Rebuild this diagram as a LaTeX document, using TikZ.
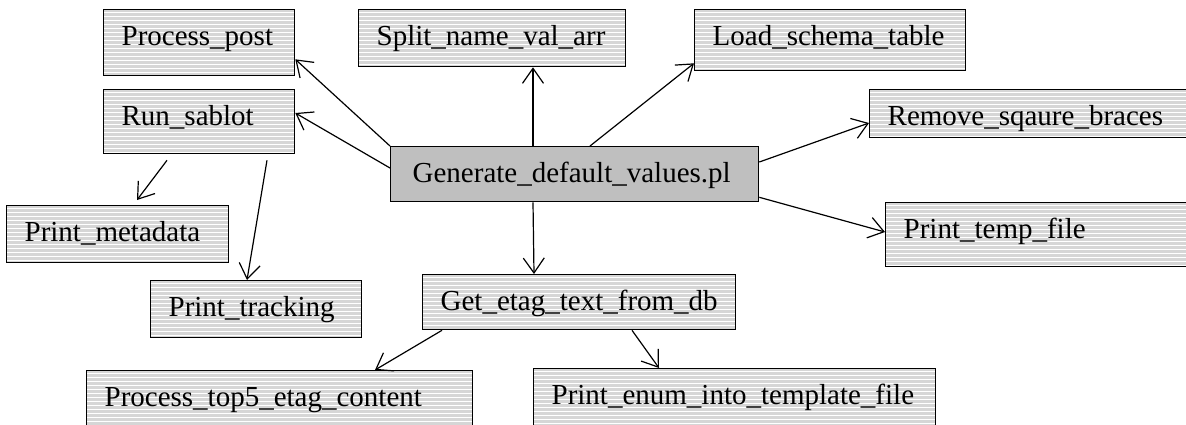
\documentclass[tikz,border=0pt]{standalone}
\usepackage{fontspec}
\setmainfont{Liberation Serif}
\usetikzlibrary{arrows.meta}
\tikzset{
  box/.style={draw=black, line width=1.3pt, fill=gray!32,
    path picture={\foreach \i in {1,...,18}{
      \draw[white, line width=1.3pt]
        ([yshift=-\i*4pt+1pt]path picture bounding box.north west) --
        ([yshift=-\i*4pt+1pt]path picture bounding box.north east);}},
    anchor=north west, inner xsep=18pt, inner ysep=0pt, text height=36pt,
    align=left, font=\fontsize{29}{30}\selectfont},
  mainbox/.style={draw=black, line width=1.3pt, fill=gray!50,
    anchor=north west, inner xsep=22pt, inner ysep=0pt, text height=36pt,
    align=left, font=\fontsize{29}{30}\selectfont},
  arr/.style={line width=1.2pt, -{Straight Barb[length=15pt,width=21pt,line width=1.2pt]}}
}
\begin{document}
\begin{tikzpicture}[x=1pt,y=-1pt]
\path[use as bounding box] (0,0) rectangle (1186,424);
\clip (0,0) rectangle (1186,424);
\node[box, text width=155pt, text depth=30pt] (pp) at (103,9) {Process\_post};
\node[box, text width=231pt, text depth=21pt] (split) at (358,9) {Split\_name\_val\_arr};
\node[box, text width=235pt, text depth=25pt] (load) at (694,9) {Load\_schema\_table};
\node[box, text width=155pt, text depth=28pt] (run) at (103,89) {Run\_sablot};
\node[box, text width=282pt, text depth=12pt] (remove) at (869,89) {Remove\_sqaure\_braces};
\node[mainbox, text width=324pt, text depth=19pt] (gen) at (390,146) {Generate\_default\_values.pl};
\node[box, text width=186pt, text depth=21pt] (meta) at (6,205) {Print\_metadata};
\node[box, text width=266pt, text depth=28pt] (temp) at (885,202) {Print\_temp\_file};
\node[box, text width=277pt, text depth=19pt] (getetag) at (422,274) {Get\_etag\_text\_from\_db};
\node[box, text width=175pt, text depth=21pt] (tracking) at (150,280) {Print\_tracking};
\node[box, text width=350pt, text depth=29pt] (top5) at (86,370) {Process\_top5\_etag\_content};
\node[box, text width=366pt, text depth=29pt] (enum) at (533,368) {Print\_enum\_into\_template\_file};

\draw[arr] (gen.north west) -- ([yshift=17pt]pp.south east);
\draw[arr] ([yshift=-22pt]gen.north west) -- ([yshift=-24pt]run.north east);
\draw[arr] ([xshift=143pt]gen.north west) -- ([xshift=175pt]split.south west);
\draw[arr] ([xshift=200pt]gen.north west) -- ([yshift=8pt]load.south west);
\draw[arr] ([yshift=-16pt]gen.north east) -- ([yshift=-34pt]remove.north west);
\draw[arr] ([yshift=5pt]gen.south east) -- ([yshift=-30pt]temp.north west);
\draw[arr] ([xshift=143pt]gen.south west) -- ([xshift=112pt]getetag.north west);
\draw[arr] ([xshift=64pt,yshift=-6pt]run.south west) -- ([xshift=131pt,yshift=5pt]meta.north west);
\draw[arr] ([xshift=164pt,yshift=-6pt]run.south west) -- ([xshift=97pt]tracking.north west);
\draw[arr] ([xshift=20pt]getetag.south west) -- ([xshift=289pt]top5.north west);
\draw[arr] ([xshift=210pt]getetag.south west) -- ([xshift=126pt]enum.north west);
\end{tikzpicture}
\end{document}
